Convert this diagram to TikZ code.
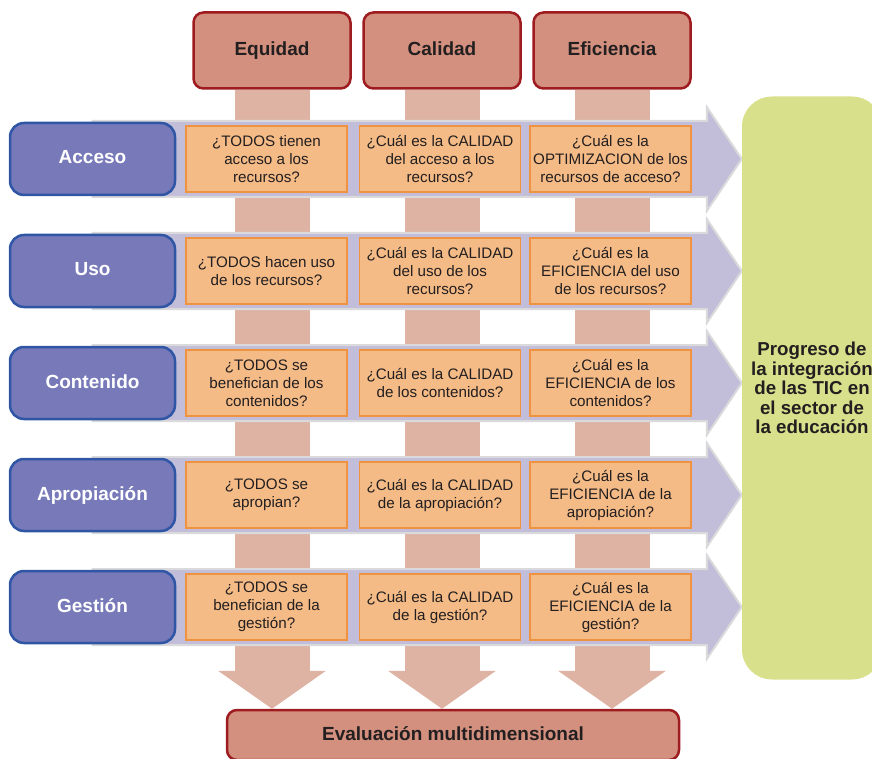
\documentclass[tikz,border=0pt]{standalone}
\usepackage{fontspec}
\setmainfont{Liberation Sans}
\usepackage{xcolor}
\usetikzlibrary{positioning, arrows.meta, backgrounds, calc}

\definecolor{critfill}{HTML}{D4907E}
\definecolor{critdraw}{HTML}{9E1B20}
\definecolor{barfill}{HTML}{DEB3A3}
\definecolor{bandfill}{HTML}{C2BDD8}
\definecolor{banddraw}{HTML}{DADADC}
\definecolor{dimfill}{HTML}{7779B9}
\definecolor{dimdraw}{HTML}{2F56A5}
\definecolor{qfill}{HTML}{F5BB86}
\definecolor{qdraw}{HTML}{EF9340}
\definecolor{progfill}{HTML}{D9E08B}
\definecolor{textdark}{HTML}{231F20}

\begin{document}
\begin{tikzpicture}[
    x=1pt, y=-1pt,
    font=\fontsize{15.2pt}{18pt}\selectfont,
    node distance=37.5pt and 9pt,
    criterio/.style={
        rectangle, rounded corners=10pt,
        draw=critdraw, line width=2.5pt,
        fill=critfill, text=textdark,
        minimum width=157pt, minimum height=76pt,
        text height=14pt, text depth=4pt,
        font=\fontsize{19pt}{22pt}\selectfont\bfseries
    },
    dimension/.style={
        rectangle, rounded corners=14pt,
        draw=dimdraw, line width=2.5pt,
        fill=dimfill, text=white,
        minimum width=165pt, minimum height=72pt,
        text height=14pt, text depth=4pt,
        font=\fontsize{19pt}{22pt}\selectfont\bfseries
    },
    pregunta/.style={
        rectangle,
        draw=qdraw, line width=1.5pt,
        fill=qfill, text=textdark,
        minimum width=161pt, minimum height=66pt,
        inner sep=1pt, align=center
    },
    progreso/.style={
        rectangle, rounded corners=30pt,
        fill=progfill, text=textdark,
        minimum width=140pt, minimum height=583pt,
        align=center, font=\fontsize{18.7pt}{19.5pt}\selectfont\bfseries
    },
    barra/.style={
        draw=barfill, line width=75pt,
        -{Triangle[length=38pt, width=108pt, line width=0pt]}
    },
    banda/.style={fill=bandfill, draw=banddraw, line width=2pt},
]

\useasboundingbox (0,0) rectangle (872,759);

% ---------- Criteria ----------
\node[criterio] (equidad) at (272,50.5) {Equidad};
\node[criterio, right=10.5pt of equidad] (calidad) {Calidad};
\node[criterio, right=10.5pt of calidad] (eficiencia) {Eficiencia};

% ---------- Dimensions ----------
\node[dimension] (acceso) at (92.5,159) {Acceso};
\node[dimension, below=of acceso] (uso) {Uso};
\node[dimension, below=of uso] (contenido) {Contenido};
\node[dimension, below=of contenido] (apropiacion) {Apropiación};
\node[dimension, below=of apropiacion] (gestion) {Gestión};

% ---------- Questions: Acceso ----------
\node[pregunta, right=of acceso] (acc-eq) {¿TODOS tienen\\acceso a los\\recursos?};
\node[pregunta, right=11pt of acc-eq] (acc-cal) {¿Cuál es la CALIDAD\\del acceso a los\\recursos?};
\node[pregunta, right=8pt of acc-cal] (acc-efi) {¿Cuál es la\\OPTIMIZACION de los\\recursos de acceso?};

% ---------- Questions: Uso ----------
\node[pregunta, right=of uso] (uso-eq) {¿TODOS hacen uso\\de los recursos?};
\node[pregunta, right=11pt of uso-eq] (uso-cal) {¿Cuál es la CALIDAD\\del uso de los\\recursos?};
\node[pregunta, right=8pt of uso-cal] (uso-efi) {¿Cuál es la\\EFICIENCIA del uso\\de los recursos?};

% ---------- Questions: Contenido ----------
\node[pregunta, right=of contenido] (con-eq) {¿TODOS se\\benefician de los\\contenidos?};
\node[pregunta, right=11pt of con-eq] (con-cal) {¿Cuál es la CALIDAD\\de los contenidos?};
\node[pregunta, right=8pt of con-cal] (con-efi) {¿Cuál es la\\EFICIENCIA de los\\contenidos?};

% ---------- Questions: Apropiacion ----------
\node[pregunta, right=of apropiacion] (apr-eq) {¿TODOS se\\apropian?};
\node[pregunta, right=11pt of apr-eq] (apr-cal) {¿Cuál es la CALIDAD\\de la apropiación?};
\node[pregunta, right=8pt of apr-cal] (apr-efi) {¿Cuál es la\\EFICIENCIA de la\\apropiación?};

% ---------- Questions: Gestion ----------
\node[pregunta, right=of gestion] (ges-eq) {¿TODOS se\\benefician de la\\gestión?};
\node[pregunta, right=11pt of ges-eq] (ges-cal) {¿Cuál es la CALIDAD\\de la gestión?};
\node[pregunta, right=8pt of ges-cal] (ges-efi) {¿Cuál es la\\EFICIENCIA de la\\gestión?};

% ---------- Result ----------
\node[progreso] (progreso) at (812,388) {Progreso de\\la integración\\de las TIC en\\el sector de\\la educación};

% ---------- Evaluation ----------
\node[criterio, minimum width=452pt, minimum height=50pt] (evaluacion) at (453,735) {Evaluación multidimensional};

% ---------- Bars and bands (behind the boxes) ----------
\begin{scope}[on background layer]
\draw[barra] (equidad.south) -- (equidad.south |- evaluacion.north);
\draw[barra] (calidad.south) -- (calidad.south |- evaluacion.north);
\draw[barra] (eficiencia.south) -- (eficiencia.south |- evaluacion.north);

\path[banda] ($(acceso.center)+(0,-38)$) -- ($(acceso.center -| progreso.west)+(-35,-38)$) -- ++(0,-14)
    -- (acceso.center -| progreso.west) -- ++(-35,52) -- ++(0,-14) -- ($(acceso.center)+(0,38)$) -- cycle;
\path[banda] ($(uso.center)+(0,-38)$) -- ($(uso.center -| progreso.west)+(-35,-38)$) -- ++(0,-14)
    -- (uso.center -| progreso.west) -- ++(-35,52) -- ++(0,-14) -- ($(uso.center)+(0,38)$) -- cycle;
\path[banda] ($(contenido.center)+(0,-38)$) -- ($(contenido.center -| progreso.west)+(-35,-38)$) -- ++(0,-14)
    -- (contenido.center -| progreso.west) -- ++(-35,52) -- ++(0,-14) -- ($(contenido.center)+(0,38)$) -- cycle;
\path[banda] ($(apropiacion.center)+(0,-38)$) -- ($(apropiacion.center -| progreso.west)+(-35,-38)$) -- ++(0,-14)
    -- (apropiacion.center -| progreso.west) -- ++(-35,52) -- ++(0,-14) -- ($(apropiacion.center)+(0,38)$) -- cycle;
\path[banda] ($(gestion.center)+(0,-38)$) -- ($(gestion.center -| progreso.west)+(-35,-38)$) -- ++(0,-14)
    -- (gestion.center -| progreso.west) -- ++(-35,52) -- ++(0,-14) -- ($(gestion.center)+(0,38)$) -- cycle;
\end{scope}

\end{tikzpicture}
\end{document}
